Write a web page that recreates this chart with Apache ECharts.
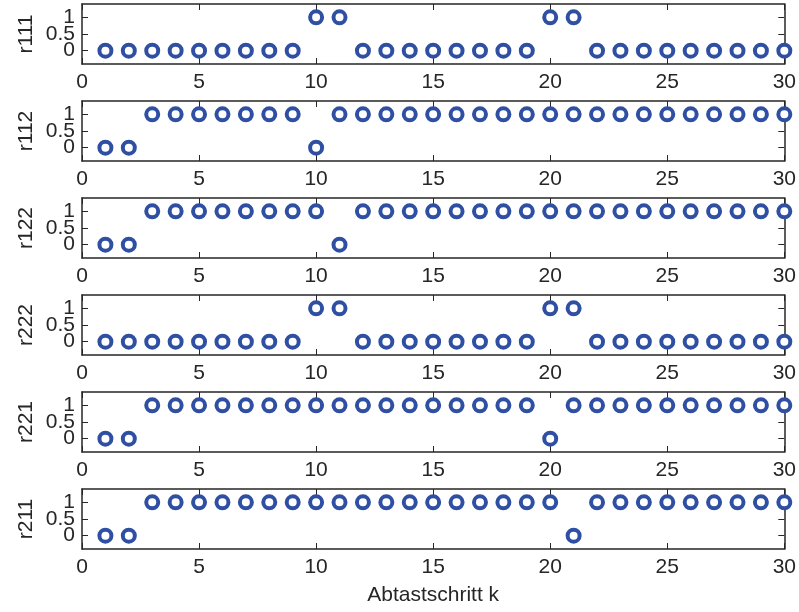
<!DOCTYPE html>
<html>
<head>
<meta charset="utf-8">
<script src="https://cdn.jsdelivr.net/npm/echarts@6/dist/echarts.min.js"></script>
<style>
  html, body { margin: 0; padding: 0; background: #fff; }
  #chart { width: 799px; height: 612px; }
</style>
</head>
<body>
<div id="chart"></div>
<script>
// Abtastschritte k = 1..30
const steps = [1, 2, 3, 4, 5, 6, 7, 8, 9, 10, 11, 12, 13, 14, 15, 16, 17, 18, 19, 20, 21, 22, 23, 24, 25, 26, 27, 28, 29, 30]

const names = ['r111', 'r112', 'r122', 'r222', 'r221', 'r211']
const r111 = [0, 0, 0, 0, 0, 0, 0, 0, 0, 1, 1, 0, 0, 0, 0, 0, 0, 0, 0, 1, 1, 0, 0, 0, 0, 0, 0, 0, 0, 0]
const r112 = [0, 0, 1, 1, 1, 1, 1, 1, 1, 0, 1, 1, 1, 1, 1, 1, 1, 1, 1, 1, 1, 1, 1, 1, 1, 1, 1, 1, 1, 1]
const r122 = [0, 0, 1, 1, 1, 1, 1, 1, 1, 1, 0, 1, 1, 1, 1, 1, 1, 1, 1, 1, 1, 1, 1, 1, 1, 1, 1, 1, 1, 1]
const r222 = [0, 0, 0, 0, 0, 0, 0, 0, 0, 1, 1, 0, 0, 0, 0, 0, 0, 0, 0, 1, 1, 0, 0, 0, 0, 0, 0, 0, 0, 0]
const r221 = [0, 0, 1, 1, 1, 1, 1, 1, 1, 1, 1, 1, 1, 1, 1, 1, 1, 1, 1, 0, 1, 1, 1, 1, 1, 1, 1, 1, 1, 1]
const r211 = [0, 0, 1, 1, 1, 1, 1, 1, 1, 1, 1, 1, 1, 1, 1, 1, 1, 1, 1, 1, 0, 1, 1, 1, 1, 1, 1, 1, 1, 1]
const values = [r111, r112, r122, r222, r221, r211]

const yTicks = [0, 0.5, 1]
const yLabelsOuter = [0, 1]
const yLabelsMid = [0.5]

const font = "'Liberation Sans', Arial, sans-serif"
const textColor = '#262626'
const lineColor = '#262626'
const markColor = '#2f4fa3'

let grids = []
let xAxes = []
let yAxes = []
let series = []

names.forEach((name, i) => {
  grids.push({ left: 82, width: 704, top: 4 + i * 97, height: 60 })
  // unten mit Beschriftung
  xAxes.push({
    gridIndex: i, type: 'value', position: 'bottom', min: 0, max: 30, interval: 5,
    axisLine: { onZero: false, lineStyle: { color: lineColor, width: 1.5 } },
    axisTick: { inside: true, length: 6, lineStyle: { color: lineColor } },
    axisLabel: { margin: 8, fontSize: 21, fontFamily: font, color: textColor, hideOverlap: false },
    splitLine: { show: false },
    name: i === names.length - 1 ? 'Abtastschritt k' : '',
    nameLocation: 'middle', nameGap: 36,
    nameTextStyle: { fontSize: 21, fontFamily: font, color: textColor }
  })
  // oben nur Striche
  xAxes.push({
    gridIndex: i, type: 'value', position: 'top', min: 0, max: 30, interval: 5,
    axisLine: { onZero: false, lineStyle: { color: lineColor, width: 1.5 } },
    axisTick: { inside: true, length: 6, lineStyle: { color: lineColor } },
    axisLabel: { show: false },
    splitLine: { show: false }
  })
  // links: Linie, Striche, Beschriftung 0 und 1
  yAxes.push({
    gridIndex: i, type: 'value', position: 'left', min: -0.4, max: 1.4,
    axisLine: { onZero: false, lineStyle: { color: lineColor, width: 1.5 } },
    axisTick: { inside: true, length: 6, customValues: yTicks, lineStyle: { color: lineColor } },
    axisLabel: {
      margin: 7, fontSize: 21, fontFamily: font, color: textColor,
      customValues: yLabelsOuter, hideOverlap: false
    },
    splitLine: { show: false },
    name: name, nameLocation: 'middle', nameGap: 45, nameRotate: 90,
    nameTextStyle: { fontSize: 21, fontFamily: font, color: textColor }
  })
  // rechts nur Striche
  yAxes.push({
    gridIndex: i, type: 'value', position: 'right', min: -0.4, max: 1.4,
    axisLine: { onZero: false, lineStyle: { color: lineColor, width: 1.5 } },
    axisTick: { inside: true, length: 6, customValues: yTicks, lineStyle: { color: lineColor } },
    axisLabel: { show: false },
    splitLine: { show: false }
  })
  // links nochmal fuer 0.5 (sonst wird die Beschriftung ausgeblendet)
  yAxes.push({
    gridIndex: i, type: 'value', position: 'left', offset: 0, min: -0.4, max: 1.4,
    axisLine: { show: false },
    axisTick: { show: false },
    axisLabel: {
      margin: 7, fontSize: 21, fontFamily: font, color: textColor,
      customValues: yLabelsMid, hideOverlap: false
    },
    splitLine: { show: false }
  })
  series.push({
    type: 'scatter',
    xAxisIndex: i * 2,
    yAxisIndex: i * 3,
    clip: false,
    symbol: 'circle',
    symbolSize: 12,
    itemStyle: { color: '#fff', borderColor: markColor, borderWidth: 4, opacity: 1 },
    data: steps.map((k, j) => [k, values[i][j]])
  })
})

let chart = echarts.init(document.getElementById('chart'))
chart.setOption({
  animation: false,
  backgroundColor: '#fff',
  grid: grids,
  xAxis: xAxes,
  yAxis: yAxes,
  series: series
})
</script>
</body>
</html>
